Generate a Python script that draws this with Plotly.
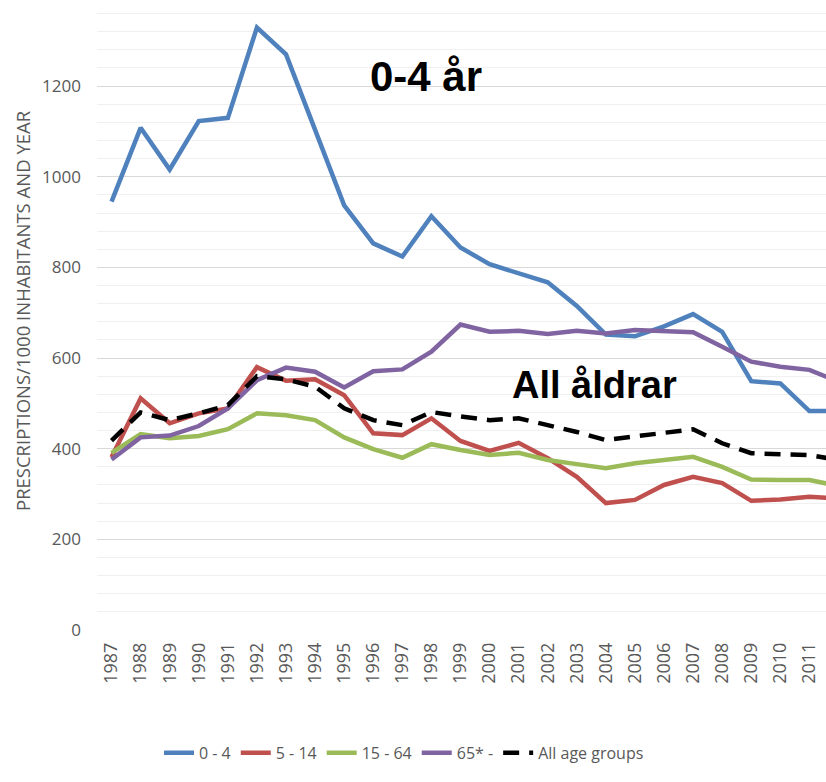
import plotly.graph_objects as go

years = list(range(1987, 2013))

age_0_4 = [945, 1108, 1016, 1123, 1130, 1329, 1270, 1100, 937, 853, 824, 913, 844, 807,
           787, 767, 715, 652, 648, 670, 697, 658, 549, 544, 483, 483]
age_5_14 = [381, 511, 456, 478, 489, 580, 550, 553, 518, 434, 430, 467, 417, 395,
            413, 379, 338, 280, 287, 320, 338, 324, 285, 288, 294, 290]
age_15_64 = [391, 432, 423, 428, 443, 478, 474, 463, 425, 399, 380, 410, 397, 386,
             391, 375, 366, 357, 368, 375, 382, 360, 332, 331, 331, 318]
age_65 = [376, 425, 429, 450, 489, 551, 579, 570, 535, 571, 575, 614, 674, 658,
          660, 653, 660, 654, 662, 660, 657, 625, 592, 581, 574, 548]
all_groups = [418, 480, 463, 478, 496, 560, 553, 537, 489, 463, 452, 481, 471, 463,
              467, 452, 437, 419, 428, 435, 443, 412, 390, 388, 386, 375]

series = [
    ("0 - 4", age_0_4, "#4f81bd", "solid"),
    ("5 - 14", age_5_14, "#c0504d", "solid"),
    ("15 - 64", age_15_64, "#9bbb59", "solid"),
    ("65* -", age_65, "#8064a2", "solid"),
    ("All age groups", all_groups, "#000000", "16px,10px"),
]

fig = go.Figure()
for name, vals, color, dash in series:
    fig.add_trace(go.Scatter(
        x=years, y=vals, name=name, mode="lines",
        line=dict(color=color, width=4.5, dash=dash),
    ))

grey = "#595959"
fig.update_layout(
    width=826, height=782,
    margin=dict(l=97, r=0, t=0, b=152),
    paper_bgcolor="white", plot_bgcolor="white",
    font=dict(family="Open Sans", color=grey, size=16),
    showlegend=True,
    legend=dict(orientation="h", x=(404-97)/729, xanchor="center", y=-0.195, yanchor="middle",
                font=dict(size=16, color=grey), itemwidth=30, tracegroupgap=0),
    xaxis=dict(
        range=[1986.5, 2011.57], tickmode="array", tickvals=years[:-1],
        ticktext=[str(y) for y in years[:-1]], tickangle=-90,
        showgrid=False, zeroline=False, showline=False, ticks="",
        tickfont=dict(size=18, color=grey), ticklabelstandoff=8,
    ),
    yaxis=dict(
        range=[0, 1390], tick0=0, dtick=200, showgrid=True, gridcolor="#d9d9d9",
        gridwidth=1, zeroline=False, showline=False, ticks="",
        tickfont=dict(size=17, color=grey), ticklabelstandoff=15,
        minor=dict(dtick=40, tick0=0, showgrid=True, gridcolor="#f0f0f0", gridwidth=1),
    ),
    shapes=[
        dict(type="rect", xref="paper", yref="paper", x0=(350-97)/729, x1=(527-97)/729,
             y0=(630-112)/630, y1=(630-40)/630, fillcolor="white", line=dict(width=0),
             layer="between"),
        dict(type="rect", xref="paper", yref="paper", x0=(465-97)/729, x1=1.0,
             y0=(630-203)/630, y1=(630-113)/630, fillcolor="white", line=dict(width=0),
             layer="between"),
    ],
    annotations=[
        dict(text="PRESCRIPTIONS/1000 INHABITANTS AND YEAR", xref="paper", yref="paper",
             x=(22-97)/729, y=(630-311)/630, xanchor="center", yanchor="middle", textangle=-90,
             showarrow=False, font=dict(size=18.5, color=grey, family="Open Sans")),
        dict(text="<b>0-4 år</b>", xref="paper", yref="paper",
             x=(426-97)/729, y=(630-76)/630, xanchor="center", yanchor="middle",
             showarrow=False, font=dict(size=42, color="black", family="Liberation Sans")),
        dict(text="<b>All åldrar</b>", xref="paper", yref="paper",
             x=(594-97)/729, y=(630-385)/630, xanchor="center", yanchor="middle",
             showarrow=False, font=dict(size=38, color="black", family="Liberation Sans")),
    ],
)

fig.write_html("out.html",
               config={"displayModeBar": False},
               post_script="document.body.style.margin='0';document.body.style.overflow='hidden';")
